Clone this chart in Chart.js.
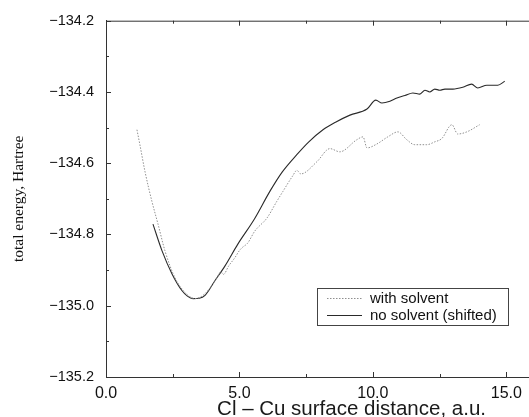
<!DOCTYPE html>
<html>
<head>
<meta charset="utf-8">
<script src="https://cdn.jsdelivr.net/npm/chart.js@4.4.1/dist/chart.umd.min.js"></script>
<style>
  body { margin: 0; background: #fff; }
  #wrap { width: 529px; height: 417px; position: relative; }
</style>
</head>
<body>
<div id="wrap"><canvas id="energyChart"></canvas></div>
<script>
// Cl - Cu surface distance (a.u.) and total energy (Hartree)
const solventX = [1.16, 1.27, 1.46, 1.72, 1.95, 2.21, 2.58, 2.96, 3.15, 3.33, 3.5, 3.71, 4.0, 4.2, 4.3, 4.4, 4.6, 4.83, 5.0, 5.13, 5.3, 5.58, 6.03, 6.4, 6.63, 7.0, 7.15, 7.3, 7.9, 8.39, 8.76, 9.4, 9.63, 9.78, 10.15, 10.56, 10.94, 11.27, 11.57, 12.02, 12.32, 12.58, 12.96, 13.18, 13.52, 14.0];
const solventY = [-134.506, -134.548, -134.623, -134.707, -134.771, -134.846, -134.921, -134.963, -134.975, -134.98, -134.977, -134.966, -134.94, -134.915, -134.905, -134.912, -134.888, -134.865, -134.845, -134.835, -134.825, -134.79, -134.754, -134.707, -134.679, -134.635, -134.62, -134.63, -134.596, -134.559, -134.568, -134.534, -134.526, -134.557, -134.546, -134.526, -134.512, -134.534, -134.548, -134.548, -134.54, -134.531, -134.492, -134.518, -134.512, -134.492];

const noSolventX = [1.76, 2.1, 2.47, 2.85, 3.05, 3.26, 3.5, 3.71, 4.08, 4.46, 4.94, 5.55, 6.14, 6.6, 7.15, 7.6, 8.13, 8.6, 9.14, 9.78, 10.11, 10.34, 10.64, 10.9, 11.2, 11.5, 11.76, 11.95, 12.13, 12.32, 12.51, 12.7, 13.0, 13.37, 13.7, 13.93, 14.27, 14.68, 14.94];
const noSolventY = [-134.771, -134.846, -134.91, -134.958, -134.973, -134.98, -134.979, -134.971, -134.93, -134.888, -134.827, -134.758, -134.679, -134.625, -134.576, -134.54, -134.506, -134.485, -134.465, -134.448, -134.423, -134.431, -134.426, -134.417, -134.41, -134.403, -134.406, -134.395, -134.4, -134.392, -134.395, -134.392, -134.392, -134.387, -134.378, -134.389, -134.381, -134.381, -134.37];

const seriesLabels = ['with solvent', 'no solvent (shifted)'];
const xMajorTicks = [0, 5, 10, 15];

function toPoints(xs, ys) {
    return xs.map((x, i) => ({ x: x, y: ys[i] }));
}

// frame on top, inward ticks, x title and the boxed legend
const framePlugin = {
    id: 'frame',
    afterDatasetsDraw(chart) {
        const ctx = chart.ctx;
        const a = chart.chartArea;
        const xs = chart.scales.x;
        const ys = chart.scales.y;
        ctx.save();
        ctx.strokeStyle = '#333';
        ctx.lineWidth = 1;
        ctx.beginPath();
        ctx.moveTo(a.left, a.top + 0.5);
        ctx.lineTo(a.right, a.top + 0.5);
        // x ticks every 2.5
        for (let v = 0; v <= 15; v += 2.5) {
            const px = Math.round(xs.getPixelForValue(v)) + 0.5;
            const len = (v % 5 === 0) ? 5 : 3;
            ctx.moveTo(px, a.bottom);
            ctx.lineTo(px, a.bottom - len);
            ctx.moveTo(px, a.top);
            ctx.lineTo(px, a.top + len);
        }
        // y ticks every 0.1
        for (let i = 0; i <= 10; i++) {
            const v = -135.2 + i * 0.1;
            const py = Math.round(ys.getPixelForValue(v)) + 0.5;
            const len = (i % 2 === 0) ? 5 : 3;
            ctx.moveTo(a.left, py);
            ctx.lineTo(a.left + len, py);
        }
        ctx.stroke();

        // x axis title
        ctx.fillStyle = '#1a1a1a';
        ctx.font = '20.5px "Liberation Sans", Arial, sans-serif';
        ctx.textAlign = 'center';
        ctx.textBaseline = 'middle';
        ctx.fillText('Cl \u2013 Cu surface distance, a.u.', xs.getPixelForValue(9.2), 409);

        // legend box
        const bx = 317, by = 288, bw = 191, bh = 37;
        ctx.strokeStyle = '#444';
        ctx.strokeRect(bx + 0.5, by + 0.5, bw, bh);
        const rows = [by + 10, by + 27];
        chart.data.datasets.forEach((ds, i) => {
            ctx.strokeStyle = ds.borderColor;
            ctx.lineWidth = ds.borderWidth;
            ctx.setLineDash(ds.borderDash || []);
            ctx.beginPath();
            ctx.moveTo(bx + 10, rows[i] + 0.5);
            ctx.lineTo(bx + 45, rows[i] + 0.5);
            ctx.stroke();
            ctx.setLineDash([]);
            ctx.fillStyle = '#111';
            ctx.font = '15px "Liberation Sans", Arial, sans-serif';
            ctx.textAlign = 'left';
            ctx.fillText(ds.label, bx + 53, rows[i] + 1);
        });
        ctx.restore();
    }
};

const energyCanvas = document.getElementById('energyChart');

const energyChart = new Chart(energyCanvas, {
    type: 'line',
    data: {
        datasets: [
            {
                label: seriesLabels[0],
                data: toPoints(solventX, solventY),
                borderColor: '#8f8f8f',
                borderWidth: 1,
                borderDash: [1.5, 1.5],
                pointRadius: 0,
                cubicInterpolationMode: 'monotone'
            },
            {
                label: seriesLabels[1],
                data: toPoints(noSolventX, noSolventY),
                borderColor: '#2a2a2a',
                borderWidth: 1.1,
                pointRadius: 0,
                cubicInterpolationMode: 'monotone'
            }
        ]
    },
    options: {
        responsive: true,
        maintainAspectRatio: false,
        animation: false,
        layout: { padding: { top: 18, right: 0, bottom: 0, left: 0 } },
        plugins: {
            legend: { display: false },
            tooltip: { enabled: false }
        },
        scales: {
            x: {
                type: 'linear',
                min: 0,
                max: 15.85,
                grid: { display: false, drawTicks: false },
                border: { display: true, color: '#333', width: 1 },
                afterBuildTicks: function (scale) {
                    scale.ticks = xMajorTicks.map(v => ({ value: v }));
                },
                afterFit: function (scale) { scale.height = 40; },
                ticks: {
                    padding: 7,
                    color: '#111',
                    font: { family: '"Liberation Sans", Arial, sans-serif', size: 16 },
                    callback: v => v.toFixed(1)
                }
            },
            y: {
                min: -135.2,
                max: -134.2,
                grid: { display: false, drawTicks: false },
                border: { display: true, color: '#333', width: 1 },
                afterFit: function (scale) { scale.width = 106; },
                title: {
                    display: true,
                    text: 'total energy, Hartree',
                    color: '#111',
                    padding: { top: 10, bottom: 0 },
                    font: { family: '"Liberation Serif", "Times New Roman", serif', size: 15.5 }
                },
                ticks: {
                    stepSize: 0.2,
                    padding: 12,
                    color: '#111',
                    font: { family: '"Liberation Sans", Arial, sans-serif', size: 14.5 },
                    callback: v => (v < 0 ? '\u2212' : '') + Math.abs(v).toFixed(1)
                }
            }
        }
    },
    plugins: [framePlugin]
});
</script>
</body>
</html>
